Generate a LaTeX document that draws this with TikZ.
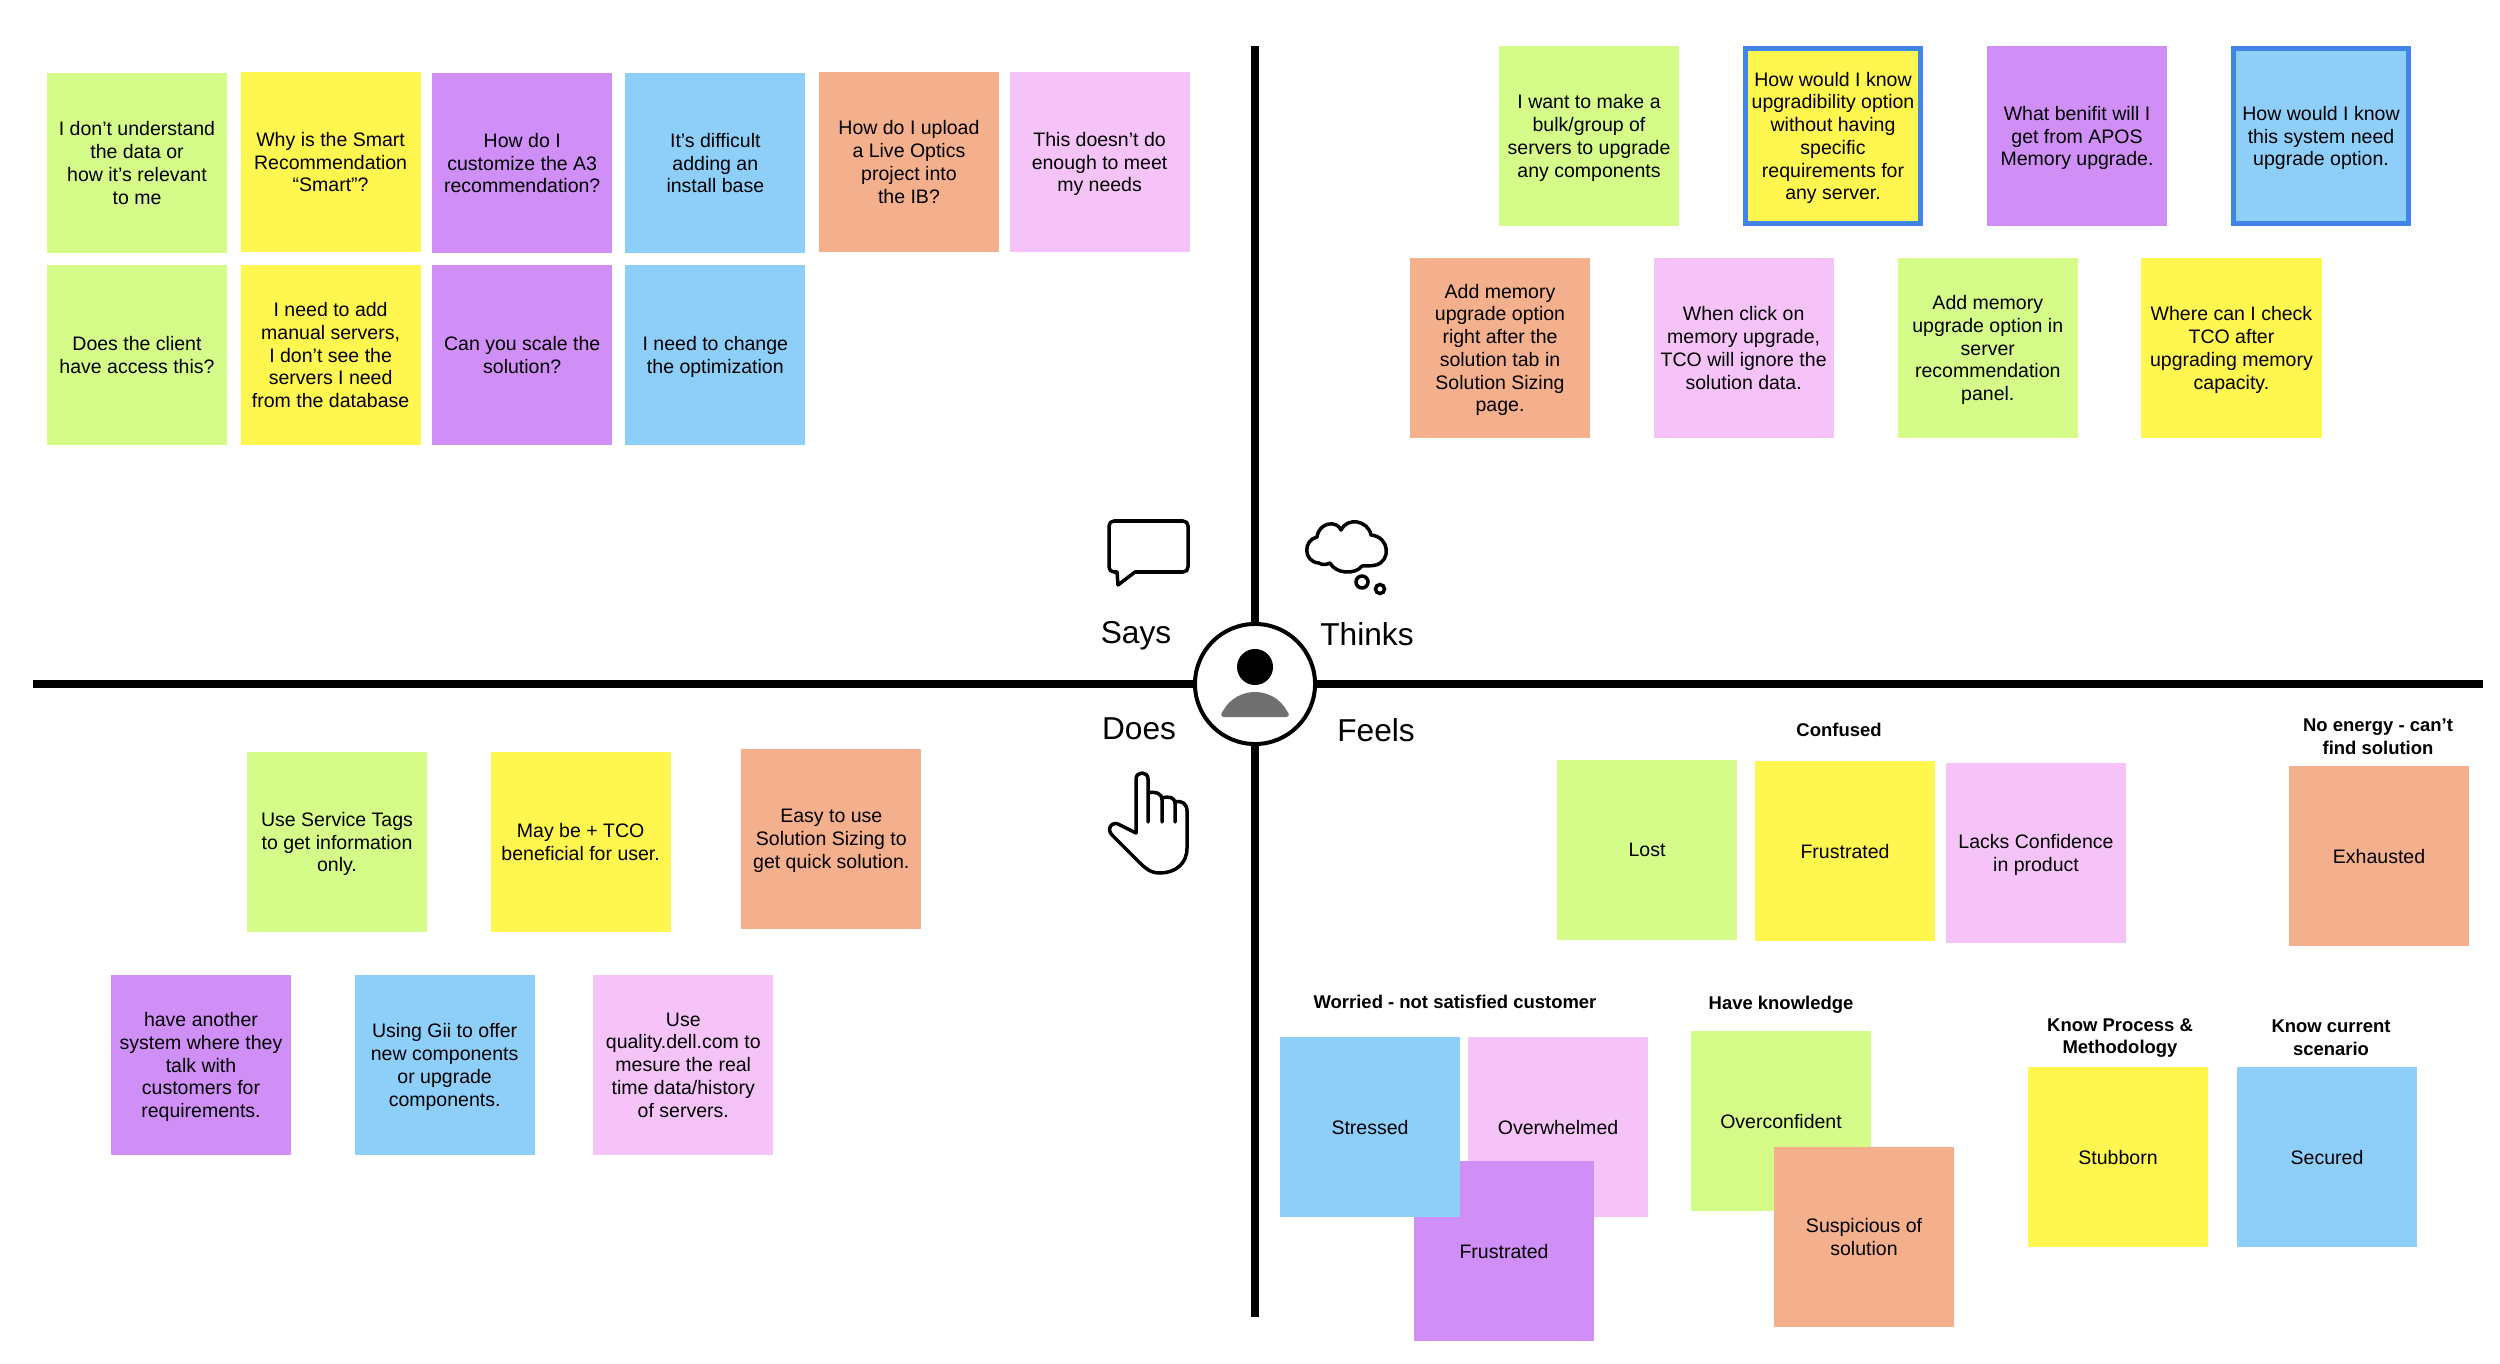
\documentclass[tikz,border=0pt]{standalone}
\usepackage{fontspec}
\setmainfont{Liberation Sans}
\usetikzlibrary{positioning}
\definecolor{notegreen}{HTML}{D5FC88}
\definecolor{noteyellow}{HTML}{FFF64F}
\definecolor{notepurple}{HTML}{CF8FF7}
\definecolor{noteblue}{HTML}{8ECFFA}
\definecolor{noteorange}{HTML}{F4B08D}
\definecolor{notepink}{HTML}{F5C3F8}
\definecolor{noteborder}{HTML}{3F86E8}
\tikzset{
  note/.style={rectangle, inner sep=0pt, outer sep=0pt, minimum size=1.8cm, align=center, text depth=0pt,
    font=\fontsize{5.55}{6.47}\selectfont},
  green/.style={note, fill=notegreen},
  yellow/.style={note, fill=noteyellow},
  purple/.style={note, fill=notepurple},
  blue/.style={note, fill=noteblue},
  orange/.style={note, fill=noteorange},
  pink/.style={note, fill=notepink},
  marked/.style={draw=noteborder, line width=0.05cm, minimum size=1.75cm},
  topic/.style={inner sep=0pt, align=center,
    font=\fontsize{5.25}{6.47}\selectfont\bfseries},
  quadrant/.style={inner sep=0pt, font=\fontsize{9}{11}\selectfont},
  axis/.style={line width=0.075cm},
  icon/.style={line width=0.035cm, line join=round, line cap=round},
}

\begin{document}
\begin{tikzpicture}[x=0.01cm, y=-0.01cm]
  \useasboundingbox (0,0) rectangle (2500,1364);

  % START: Axes ------------------------------------
  \node[circle, draw, fill=white, line width=0.04cm, minimum size=1.2cm, inner sep=0pt] (persona) at (1255,684) {};
  \coordinate (west) at (33,684);
  \coordinate (east) at (2483,684);
  \coordinate (north) at (1255,46);
  \coordinate (south) at (1255,1317);
  \draw[axis] (west) -- (persona);
  \draw[axis] (east) -- (persona);
  \draw[axis] (north) -- (persona);
  \draw[axis] (south) -- (persona);
  \node[circle, fill=black, minimum size=0.36cm, inner sep=0pt] (head) at (1255,667) {};
  \fill[black!56] (1224,717) .. controls (1220,717) and (1221,713) .. (1223,711)
    .. controls (1230,698) and (1243,692) .. (1255,692)
    .. controls (1267,692) and (1280,698) .. (1287,711)
    .. controls (1289,713) and (1290,717) .. (1286,717) -- cycle;
  % END: Axes --------------------------------------

  % START: Quadrant labels -------------------------
  \node[quadrant] (says) at (1136,636) {Says};
  \node[quadrant] (thinks) at (1367,634) {Thinks};
  \node[quadrant] (does) at (1139,729) {Does};
  \node[quadrant] (feels) at (1376,730) {Feels};

  % Speech bubble
  \draw[icon] (1114,521) -- (1183,521) .. controls (1186,521) and (1188,523) .. (1188,526)
    -- (1188,567) .. controls (1188,570) and (1186,572) .. (1183,572) -- (1135,572)
    -- (1118,585) -- (1117,572) -- (1114,572) .. controls (1111,572) and (1109,570) .. (1109,567)
    -- (1109,526) .. controls (1109,523) and (1111,521) .. (1114,521) -- cycle;
  % Cloud
  \draw[icon] (1319,563) .. controls (1303,562) and (1303,540) .. (1317,537)
    .. controls (1319,522) and (1337,520) .. (1341,530)
    .. controls (1347,517) and (1368,520) .. (1371,535)
    .. controls (1390,537) and (1391,561) .. (1376,565)
    .. controls (1372,566) and (1366,566) .. (1362,566)
    .. controls (1355,575) and (1336,574) .. (1330,563)
    .. controls (1326,565) and (1322,565) .. (1319,563) -- cycle;
  \node[circle, draw, line width=0.035cm, minimum size=0.12cm, inner sep=0pt] (bubble_a) at (1362,582) {};
  \node[circle, draw, line width=0.035cm, minimum size=0.09cm, inner sep=0pt] (bubble_b) at (1380,589) {};
  % Hand
  \draw[icon] (1136,833) -- (1136,779) .. controls (1136,771) and (1148,771) .. (1148,779) -- (1148,822)
    (1148,793) .. controls (1155,791) and (1162,793) .. (1162,800) -- (1162,822)
    (1162,798) .. controls (1169,796) and (1175,797) .. (1175,804) -- (1175,822)
    (1175,802) .. controls (1182,800) and (1187,804) .. (1187,811) -- (1187,848)
    .. controls (1187,864) and (1175,873) .. (1160,873) .. controls (1150,873) and (1145,868) .. (1138,861)
    -- (1112,835) .. controls (1106,829) and (1112,820) .. (1120,825) -- (1136,833);
  % END: Quadrant labels ---------------------------

  % START: Says ------------------------------------
  % Row 1
  \node[green] (says_a) at (137,163) {I don’t understand\\the data or\\how it’s relevant\\to me};
  \node[yellow, right=0.135cm of says_a, yshift=0.01cm] (says_b) {Why is the Smart\\Recommendation\\“Smart”?};
  \node[purple, right=0.115cm of says_b, yshift=-0.01cm] (says_c) {How do I\\customize the A3\\recommendation?};
  \node[blue, right=0.13cm of says_c] (says_d) {It’s difficult\\adding an\\install base};
  \node[orange, right=0.135cm of says_d, yshift=0.01cm] (says_e) {How do I upload\\a Live Optics\\project into\\the IB?};
  \node[pink, right=0.105cm of says_e] (says_f) {This doesn’t do\\enough to meet\\my needs};
  % Row 2
  \node[green] (says_g) at (137,355) {Does the client\\have access this?};
  \node[yellow, right=0.135cm of says_g] (says_h) {I need to add\\manual servers,\\I don’t see the\\servers I need\\from the database};
  \node[purple, right=0.115cm of says_h] (says_i) {Can you scale the\\solution?};
  \node[blue, right=0.13cm of says_i] (says_j) {I need to change\\the optimization};
  % END: Says --------------------------------------

  % START: Thinks ----------------------------------
  % Row 1
  \node[green] (thinks_a) at (1589,136) {I want to make a\\bulk/group of\\servers to upgrade\\any components};
  \node[yellow, marked] (thinks_b) at (1833,136) {How would I know\\upgradibility option\\without having\\specific\\requirements for\\any server.};
  \node[purple] (thinks_c) at (2077,136) {What benifit will I\\get from APOS\\Memory upgrade.};
  \node[blue, marked] (thinks_d) at (2321,136) {How would I know\\this system need\\upgrade option.};
  % Row 2
  \node[orange] (thinks_e) at (1500,348) {Add memory\\upgrade option\\right after the\\solution tab in\\Solution Sizing\\page.};
  \node[pink, right=0.635cm of thinks_e] (thinks_f) {When click on\\memory upgrade,\\TCO will ignore the\\solution data.};
  \node[green, right=0.64cm of thinks_f] (thinks_g) {Add memory\\upgrade option in\\server\\recommendation\\panel.};
  \node[yellow, right=0.635cm of thinks_g] (thinks_h) {Where can I check\\TCO after\\upgrading memory\\capacity.};
  % END: Thinks ------------------------------------

  % START: Does ------------------------------------
  % Row 1
  \node[green] (does_a) at (337,842) {Use Service Tags\\to get information\\only.};
  \node[yellow, right=0.635cm of does_a] (does_b) {May be + TCO\\beneficial for user.};
  \node[orange, right=0.705cm of does_b, yshift=0.03cm] (does_c) {Easy to use\\Solution Sizing to\\get quick solution.};
  % Row 2
  \node[purple] (does_d) at (201,1065) {have another\\system where they\\talk with\\customers for\\requirements.};
  \node[blue, right=0.635cm of does_d] (does_e) {Using Gii to offer\\new components\\or upgrade\\components.};
  \node[pink, right=0.585cm of does_e] (does_f) {Use\\quality.dell.com to\\mesure the real\\time data/history\\of servers.};
  % END: Does --------------------------------------

  % START: Feels -----------------------------------
  % Level 1
  \node[green] (lost) at (1647,850) {Lost};
  \node[yellow] (frustrated_a) at (1845,851) {Frustrated};
  \node[pink] (lacks) at (2036,853) {Lacks Confidence\\in product};
  \node[orange] (exhausted) at (2379,856) {Exhausted};
  \node[topic] (confused) at (1839,730) {Confused};
  \node[topic] (energy) at (2378,737) {No energy - can’t\\find solution};
  % Level 2
  \node[pink] (overwhelmed) at (1558,1127) {Overwhelmed};
  \node[purple] (frustrated_b) at (1504,1251) {Frustrated};
  \node[blue] (stressed) at (1370,1127) {Stressed};
  \node[green] (overconfident) at (1781,1121) {Overconfident};
  \node[orange] (suspicious) at (1864,1237) {Suspicious of\\solution};
  \node[yellow] (stubborn) at (2118,1157) {Stubborn};
  \node[blue] (secured) at (2327,1157) {Secured};
  \node[topic] (worried) at (1455,1002) {Worried - not satisfied customer};
  \node[topic] (knowledge) at (1781,1005) {Have knowledge};
  \node[topic] (process) at (2120,1038) {Know Process \&\\Methodology};
  \node[topic] (scenario) at (2331,1038) {Know current\\scenario};
  % END: Feels -------------------------------------
\end{tikzpicture}
\end{document}
